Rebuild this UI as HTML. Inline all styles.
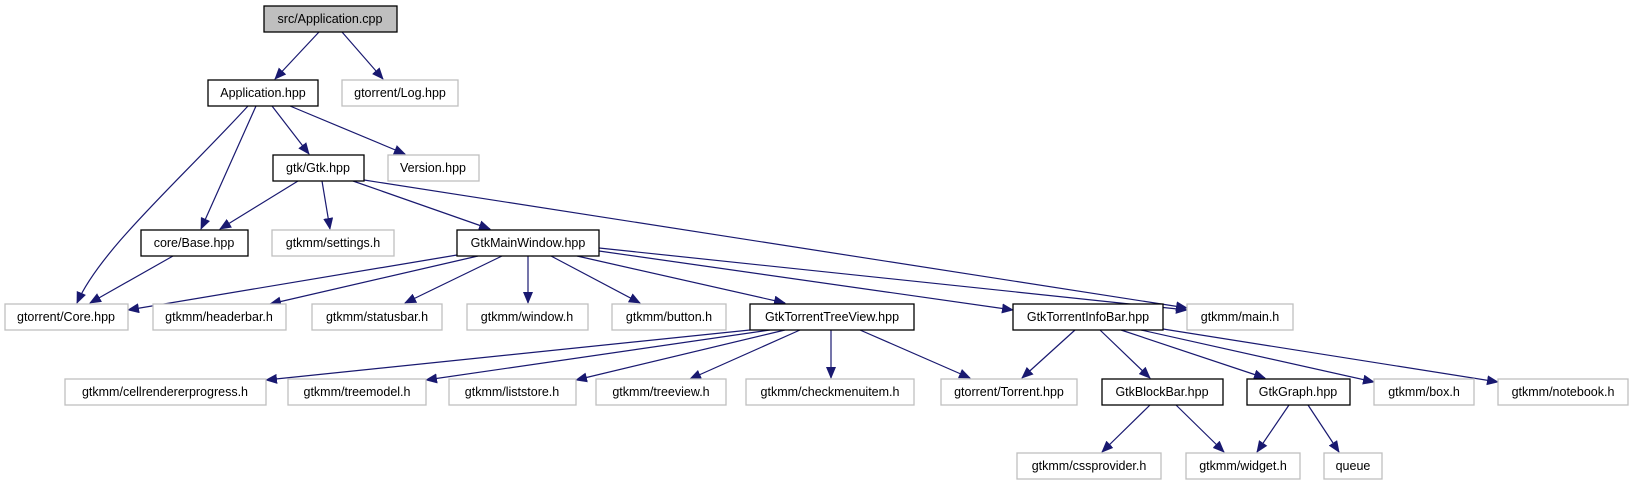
<!DOCTYPE html>
<html><head><meta charset="utf-8"><style>
html,body{margin:0;padding:0;background:#fff;}
svg{display:block;}
text{font-family:"Liberation Sans",sans-serif;font-size:12.5px;fill:#000;text-anchor:middle;}
.b{fill:#fff;stroke:#000;stroke-width:1.3;}
.g{fill:#fff;stroke:#bfbfbf;stroke-width:1.3;}
.e{stroke:#191970;stroke-width:1.2;fill:none;marker-end:url(#a);}
</style></head><body>
<svg width="1633" height="485" viewBox="0 0 1633 485">
<defs><marker id="a" markerWidth="12" markerHeight="10" refX="11" refY="5" orient="auto" markerUnits="userSpaceOnUse"><path d="M0,0 L12,5 L0,10 Z" fill="#191970"/></marker></defs>
<g>
<path class="e" d="M319,32 L275,79"/>
<path class="e" d="M342,32 L383,79"/>
<path class="e" d="M248,106 C180,180 100,250 77,303"/>
<path class="e" d="M256,106 L201,229"/>
<path class="e" d="M272,106 L309,154"/>
<path class="e" d="M290,106 L405,154"/>
<path class="e" d="M298,181 L220,229"/>
<path class="e" d="M322,181 L330,229"/>
<path class="e" d="M353,181 L490,229"/>
<path class="e" d="M364,180 L1187,308"/>
<path class="e" d="M173,256 L90,303"/>
<path class="e" d="M457,255 L128,310"/>
<path class="e" d="M478,256 L270,304"/>
<path class="e" d="M502,256 L405,303"/>
<path class="e" d="M528,256 L528,303"/>
<path class="e" d="M551,256 L640,303"/>
<path class="e" d="M577,256 L785,303"/>
<path class="e" d="M599,251 L1013,310"/>
<path class="e" d="M599,248 L1187,310"/>
<path class="e" d="M750,330 L266,380"/>
<path class="e" d="M770,330 L426,380"/>
<path class="e" d="M785,330 L576,380"/>
<path class="e" d="M800,330 L690,379"/>
<path class="e" d="M831,330 L831,378"/>
<path class="e" d="M860,330 L970,378"/>
<path class="e" d="M1075,330 L1022,378"/>
<path class="e" d="M1100,330 L1150,378"/>
<path class="e" d="M1121,330 L1265,378"/>
<path class="e" d="M1141,330 L1374,382"/>
<path class="e" d="M1163,329 L1498,382"/>
<path class="e" d="M1150,405 L1102,452"/>
<path class="e" d="M1176,405 L1224,452"/>
<path class="e" d="M1289,405 L1257,452"/>
<path class="e" d="M1308,405 L1339,452"/>
</g>
<rect x="264" y="6" width="133" height="26" fill="#bfbfbf" stroke="#000" stroke-width="1.3"/><text x="330" y="23">src/Application.cpp</text>
<rect class="b" x="208" y="80" width="110" height="26"/><text x="263" y="97">Application.hpp</text>
<rect class="g" x="342" y="80" width="116" height="26"/><text x="400" y="97">gtorrent/Log.hpp</text>
<rect class="b" x="273" y="155" width="91" height="26"/><text x="318" y="172">gtk/Gtk.hpp</text>
<rect class="g" x="388" y="155" width="91" height="26"/><text x="433" y="172">Version.hpp</text>
<rect class="b" x="141" y="230" width="107" height="26"/><text x="194" y="247">core/Base.hpp</text>
<rect class="g" x="272" y="230" width="122" height="26"/><text x="333" y="247">gtkmm/settings.h</text>
<rect class="b" x="457" y="230" width="142" height="26"/><text x="528" y="247">GtkMainWindow.hpp</text>
<rect class="g" x="5" y="304" width="123" height="26"/><text x="66" y="321">gtorrent/Core.hpp</text>
<rect class="g" x="153" y="304" width="133" height="26"/><text x="219" y="321">gtkmm/headerbar.h</text>
<rect class="g" x="312" y="304" width="130" height="26"/><text x="377" y="321">gtkmm/statusbar.h</text>
<rect class="g" x="467" y="304" width="121" height="26"/><text x="527" y="321">gtkmm/window.h</text>
<rect class="g" x="612" y="304" width="114" height="26"/><text x="669" y="321">gtkmm/button.h</text>
<rect class="b" x="750" y="304" width="164" height="26"/><text x="832" y="321">GtkTorrentTreeView.hpp</text>
<rect class="b" x="1013" y="304" width="150" height="26"/><text x="1088" y="321">GtkTorrentInfoBar.hpp</text>
<rect class="g" x="1187" y="304" width="106" height="26"/><text x="1240" y="321">gtkmm/main.h</text>
<rect class="g" x="65" y="379" width="201" height="26"/><text x="165" y="396">gtkmm/cellrendererprogress.h</text>
<rect class="g" x="288" y="379" width="138" height="26"/><text x="357" y="396">gtkmm/treemodel.h</text>
<rect class="g" x="449" y="379" width="127" height="26"/><text x="512" y="396">gtkmm/liststore.h</text>
<rect class="g" x="596" y="379" width="130" height="26"/><text x="661" y="396">gtkmm/treeview.h</text>
<rect class="g" x="746" y="379" width="168" height="26"/><text x="830" y="396">gtkmm/checkmenuitem.h</text>
<rect class="g" x="941" y="379" width="136" height="26"/><text x="1009" y="396">gtorrent/Torrent.hpp</text>
<rect class="b" x="1102" y="379" width="121" height="26"/><text x="1162" y="396">GtkBlockBar.hpp</text>
<rect class="b" x="1247" y="379" width="103" height="26"/><text x="1298" y="396">GtkGraph.hpp</text>
<rect class="g" x="1374" y="379" width="100" height="26"/><text x="1424" y="396">gtkmm/box.h</text>
<rect class="g" x="1498" y="379" width="130" height="26"/><text x="1563" y="396">gtkmm/notebook.h</text>
<rect class="g" x="1017" y="453" width="144" height="26"/><text x="1089" y="470">gtkmm/cssprovider.h</text>
<rect class="g" x="1186" y="453" width="114" height="26"/><text x="1243" y="470">gtkmm/widget.h</text>
<rect class="g" x="1324" y="453" width="58" height="26"/><text x="1353" y="470">queue</text>
</svg>
</body></html>
